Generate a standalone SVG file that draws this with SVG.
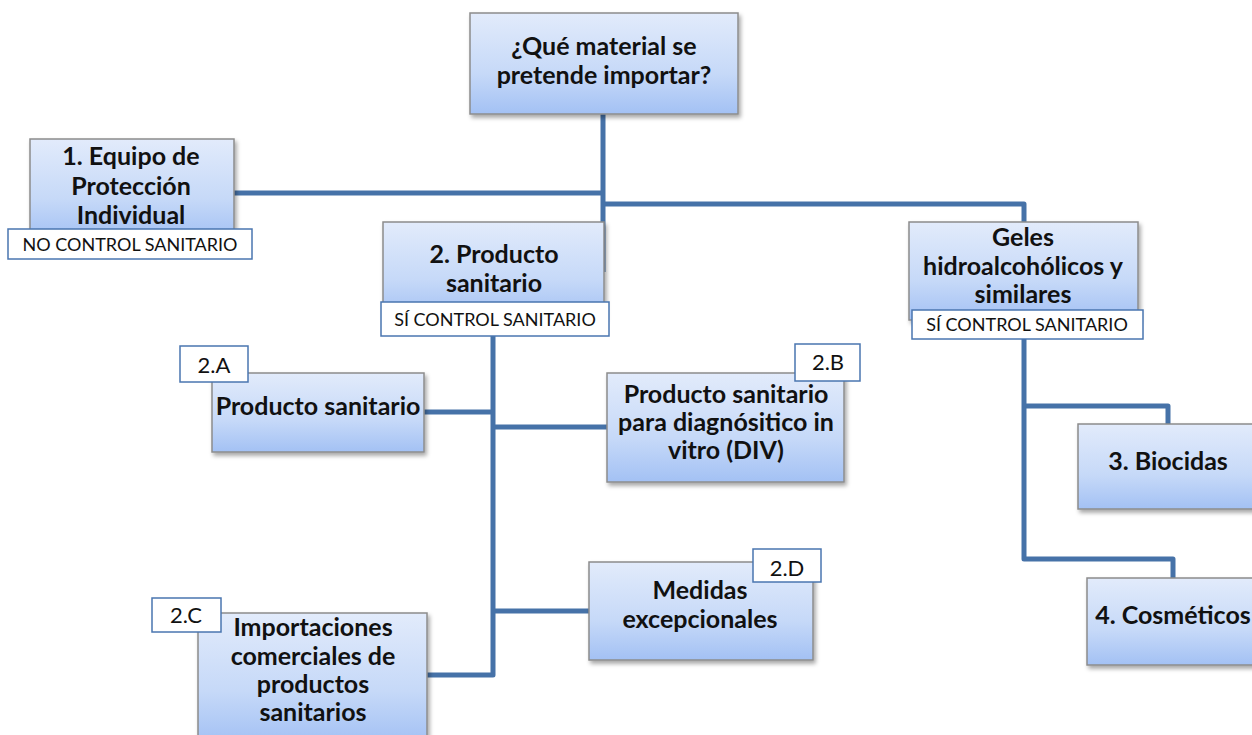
<svg xmlns="http://www.w3.org/2000/svg" width="1252" height="735" viewBox="0 0 1252 735">
<defs>
<linearGradient id="g" x1="0" y1="0" x2="0" y2="1">
<stop offset="0" stop-color="#e2ebfb"/>
<stop offset="0.6" stop-color="#c6d9f8"/>
<stop offset="1" stop-color="#a3c1f4"/>
</linearGradient>
<filter id="sh" x="-10%" y="-10%" width="130%" height="140%">
<feDropShadow dx="2" dy="3" stdDeviation="2" flood-color="#000" flood-opacity="0.35"/>
</filter>
</defs>
<style>
.box{fill:url(#g);stroke:#8c8c8c;stroke-width:1.5;filter:url(#sh)}
.lbl{fill:#fff;stroke:#4a76b0;stroke-width:1.5}
.t{font-family:Lato,"Liberation Sans",sans-serif;font-weight:bold;font-size:25px;fill:#111;text-anchor:middle}
.s{font-family:Lato,"Liberation Sans",sans-serif;font-size:18px;fill:#111;text-anchor:middle}
.n{font-family:Lato,"Liberation Sans",sans-serif;font-size:22px;fill:#111;text-anchor:middle}
.c{fill:none;stroke:#4672a8;stroke-width:5;stroke-linejoin:round}
</style>
<rect width="1252" height="735" fill="#fff"/>
<g id="connectors">
<path class="c" d="M603 114 V272"/>
<path class="c" d="M234 193 H603"/>
<path class="c" d="M603 204 H1024 V222"/>
<path class="c" d="M493 336 V675 H427"/>
<path class="c" d="M424 412 H493"/>
<path class="c" d="M493 427 H607"/>
<path class="c" d="M493 611 H589"/>
<path class="c" d="M1024 339 V559 H1173 V578"/>
<path class="c" d="M1024 406 H1168 V424"/>
</g>
<g id="n-top">
<rect class="box" x="470" y="13" width="268" height="101"/>
<text class="t" x="604" y="55">¿Qué material se</text>
<text class="t" x="604" y="84">pretende importar?</text>
</g>
<g id="n-1">
<rect class="box" x="30" y="139" width="204" height="100"/>
<text class="t" x="131" y="165">1. Equipo de</text>
<text class="t" x="131" y="195">Protección</text>
<text class="t" x="131" y="224">Individual</text>
<rect class="lbl" x="8" y="229" width="244" height="30"/>
<text class="s" x="130" y="251">NO CONTROL SANITARIO</text>
</g>
<g id="n-2">
<rect class="box" x="383" y="222" width="221" height="96"/>
<text class="t" x="494" y="263">2. Producto</text>
<text class="t" x="494" y="292">sanitario</text>
<rect class="lbl" x="381" y="302" width="228" height="34"/>
<text class="s" x="495" y="326">SÍ CONTROL SANITARIO</text>
</g>
<g id="n-geles">
<rect class="box" x="909" y="222" width="229" height="98"/>
<text class="t" x="1023" y="246">Geles</text>
<text class="t" x="1023" y="275">hidroalcohólicos y</text>
<text class="t" x="1023" y="303">similares</text>
<rect class="lbl" x="912" y="310" width="231" height="29"/>
<text class="s" x="1027" y="331">SÍ CONTROL SANITARIO</text>
</g>
<g id="n-2a">
<rect class="box" x="212" y="373" width="212" height="79"/>
<text class="t" x="318" y="415">Producto sanitario</text>
<rect class="lbl" x="180" y="346" width="68" height="36"/>
<text class="n" x="214" y="373">2.A</text>
</g>
<g id="n-2b">
<rect class="box" x="607" y="373" width="237" height="109"/>
<text class="t" x="726" y="403">Producto sanitario</text>
<text class="t" x="726" y="431">para diagnósitico in</text>
<text class="t" x="726" y="459">vitro (DIV)</text>
<rect class="lbl" x="795" y="344" width="65" height="37"/>
<text class="n" x="828" y="370">2.B</text>
</g>
<g id="n-2c">
<rect class="box" x="198" y="613" width="229" height="130"/>
<text class="t" x="313" y="636">Importaciones</text>
<text class="t" x="313" y="665">comerciales de</text>
<text class="t" x="313" y="693">productos</text>
<text class="t" x="313" y="721">sanitarios</text>
<rect class="lbl" x="152" y="598" width="69" height="34"/>
<text class="n" x="186" y="623">2.C</text>
</g>
<g id="n-2d">
<rect class="box" x="589" y="562" width="224" height="98"/>
<text class="t" x="700" y="599">Medidas</text>
<text class="t" x="700" y="628">excepcionales</text>
<rect class="lbl" x="753" y="549" width="68" height="33"/>
<text class="n" x="787" y="576">2.D</text>
</g>
<g id="n-3">
<rect class="box" x="1078" y="424" width="190" height="85"/>
<text class="t" x="1168" y="470">3. Biocidas</text>
</g>
<g id="n-4">
<rect class="box" x="1087" y="578" width="190" height="87"/>
<text class="t" x="1173" y="624">4. Cosméticos</text>
</g>
</svg>
